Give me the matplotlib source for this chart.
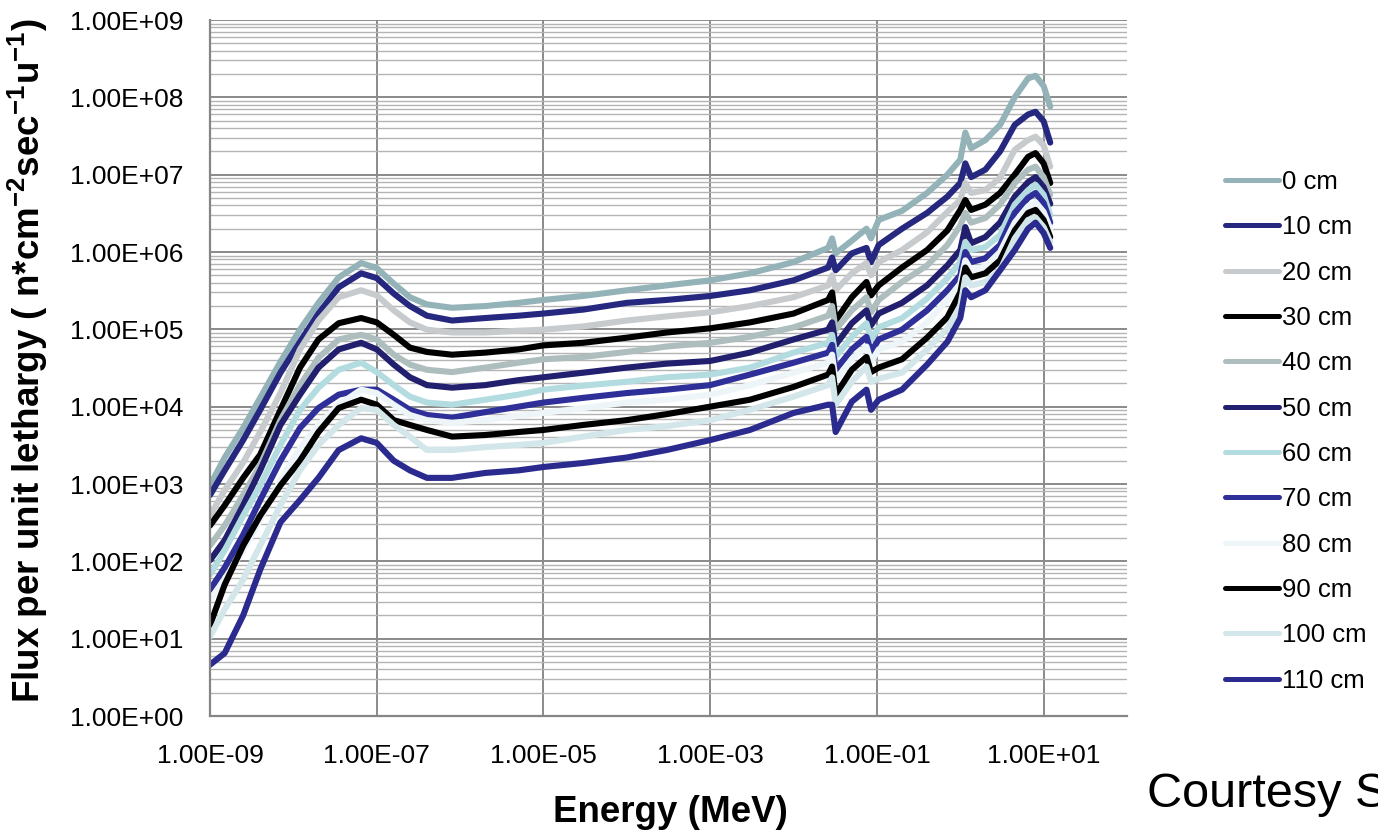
import matplotlib
matplotlib.use("Agg")
import matplotlib.pyplot as plt
from matplotlib.ticker import FixedLocator, FuncFormatter, LogLocator, NullLocator, NullFormatter

plt.rcParams['font.family'] = ['Liberation Sans', 'DejaVu Sans']
plt.rcParams['mathtext.fontset'] = 'custom'
plt.rcParams['mathtext.rm'] = 'Liberation Sans'
plt.rcParams['mathtext.bf'] = 'Liberation Sans:bold'

# Energy grid (MeV)
energy = [1.0e-9, 1.5e-9, 2.5e-9, 4.0e-9, 7.0e-9, 1.2e-8, 2.0e-8, 3.5e-8, 6.5e-8, 1.0e-7,
          1.6e-7, 2.5e-7, 4.0e-7, 8.0e-7, 2.0e-6, 5.0e-6, 1.0e-5, 3.0e-5, 1.0e-4, 3.0e-4,
          1.0e-3, 3.0e-3, 1.0e-2, 2.6e-2, 2.9e-2, 3.2e-2, 5.0e-2, 7.5e-2, 8.5e-2, 1.05e-1,
          0.2, 0.4, 0.7, 1.0, 1.15, 1.35, 2.0, 3.0, 4.5, 6.5, 8.0, 10.0, 12.0]

flux_0cm = [9.6e2, 2.2e3, 5.3e3, 1.3e4, 3.8e4, 9.9e4, 2.2e5, 4.7e5, 7.2e5, 6.2e5,
            3.9e5, 2.6e5, 2.1e5, 1.9e5, 2.0e5, 2.2e5, 2.4e5, 2.7e5, 3.2e5, 3.7e5,
            4.3e5, 5.3e5, 7.4e5, 1.13e6, 1.5e6, 9.6e5, 1.4e6, 2.0e6, 1.5e6, 2.6e6,
            3.4e6, 5.8e6, 1.0e7, 1.56e7, 3.5e7, 2.2e7, 2.8e7, 4.4e7, 1.0e8, 1.76e8,
            1.9e8, 1.4e8, 7.6e7]
flux_10cm = [7.2e2, 1.5e3, 3.7e3, 9.1e3, 2.75e4, 6.9e4, 1.6e5, 3.5e5, 5.3e5, 4.6e5,
             2.9e5, 2.0e5, 1.5e5, 1.3e5, 1.4e5, 1.5e5, 1.6e5, 1.8e5, 2.2e5, 2.4e5,
             2.7e5, 3.2e5, 4.3e5, 6.3e5, 8.5e5, 5.8e5, 9.6e5, 1.13e6, 7.4e5, 1.23e6,
             2.0e6, 3.2e6, 5.2e6, 7.8e6, 1.4e7, 9.3e6, 1.16e7, 2.0e7, 4.4e7, 6.0e7,
             6.5e7, 4.9e7, 2.6e7]
flux_20cm = [3.9e2, 8.3e2, 1.9e3, 4.7e3, 1.5e4, 5.5e4, 1.3e5, 2.6e5, 3.2e5, 2.75e5,
             1.76e5, 1.23e5, 9.9e4, 9.1e4, 9.1e4, 9.6e4, 9.9e4, 1.09e5, 1.3e5, 1.47e5,
             1.66e5, 2.0e5, 2.6e5, 3.7e5, 5.0e5, 3.2e5, 5.3e5, 7.2e5, 5.0e5, 7.4e5,
             1.06e6, 1.8e6, 3.3e6, 4.7e6, 7.8e6, 5.8e6, 6.3e6, 9.1e6, 2.1e7, 2.8e7,
             3.1e7, 2.4e7, 1.27e7]
flux_30cm = [2.9e2, 5.3e2, 1.2e3, 2.4e3, 9.1e3, 3.2e4, 7.4e4, 1.2e5, 1.4e5, 1.23e5,
             8.5e4, 5.8e4, 5.1e4, 4.7e4, 5.0e4, 5.5e4, 6.2e4, 6.7e4, 7.8e4, 9.1e4,
             1.03e5, 1.23e5, 1.6e5, 2.4e5, 3.0e5, 1.3e5, 2.6e5, 4.1e5, 2.75e5, 3.7e5,
             6.3e5, 1.06e6, 1.9e6, 3.5e6, 4.7e6, 3.5e6, 4.1e6, 5.8e6, 1.0e7, 1.7e7,
             1.9e7, 1.4e7, 7.8e6]
flux_40cm = [1.6e2, 2.9e2, 7.2e2, 1.76e3, 6.7e3, 1.9e4, 4.3e4, 7.4e4, 8.5e4, 7.4e4,
             4.7e4, 3.5e4, 3.0e4, 2.8e4, 3.2e4, 3.7e4, 4.1e4, 4.4e4, 5.1e4, 6.0e4,
             6.7e4, 8.0e4, 1.06e5, 1.5e5, 2.0e5, 9.9e4, 1.76e5, 2.6e5, 1.66e5, 2.4e5,
             4.1e5, 6.7e5, 1.23e6, 2.2e6, 3.2e6, 2.4e6, 2.75e6, 4.1e6, 7.8e6, 1.16e7,
             1.27e7, 9.3e6, 5.5e6]
flux_50cm = [1.03e2, 1.87e2, 5.3e2, 1.5e3, 5.8e3, 1.43e4, 3.2e4, 5.5e4, 6.7e4, 5.5e4,
             3.5e4, 2.4e4, 1.9e4, 1.76e4, 1.9e4, 2.2e4, 2.4e4, 2.75e4, 3.2e4, 3.6e4,
             3.9e4, 5.0e4, 7.4e4, 9.9e4, 1.23e5, 6.3e4, 1.2e5, 1.76e5, 1.13e5, 1.6e5,
             2.2e5, 3.7e5, 6.7e5, 1.06e6, 2.1e6, 1.3e6, 1.56e6, 2.4e6, 5.2e6, 8.0e6,
             9.3e6, 6.9e6, 4.2e6]
flux_60cm = [6.7e1, 1.39e2, 3.9e2, 9.6e2, 3.2e3, 9.1e3, 1.76e4, 3.0e4, 3.7e4, 2.8e4,
             1.9e4, 1.35e4, 1.13e4, 1.06e4, 1.23e4, 1.43e4, 1.66e4, 1.87e4, 2.1e4, 2.4e4,
             2.6e4, 3.2e4, 5.0e4, 6.7e4, 8.5e4, 4.4e4, 8.0e4, 1.2e5, 7.4e4, 1.06e5,
             1.4e5, 2.5e5, 4.6e5, 7.4e5, 1.35e6, 1.06e6, 1.16e6, 1.66e6, 4.1e6, 6.3e6,
             7.4e6, 5.5e6, 3.0e6]
flux_70cm = [4.3e1, 8.3e1, 2.2e2, 6.2e2, 2.0e3, 5.3e3, 9.6e3, 1.43e4, 1.66e4, 1.66e4,
             1.23e4, 9.1e3, 7.8e3, 7.2e3, 8.5e3, 1.0e4, 1.13e4, 1.3e4, 1.5e4, 1.66e4,
             1.9e4, 2.6e4, 3.7e4, 5.0e4, 6.3e4, 3.0e4, 5.5e4, 8.0e4, 5.1e4, 7.4e4,
             9.9e4, 1.76e5, 3.2e5, 5.0e5, 1.0e6, 7.4e5, 8.3e5, 1.23e6, 3.2e6, 5.0e6,
             5.8e6, 4.3e6, 2.4e6]
flux_80cm = [3.2e1, 5.8e1, 1.39e2, 3.4e2, 1.13e3, 2.9e3, 5.8e3, 1.06e4, 1.66e4, 1.5e4,
             1.06e4, 7.8e3, 6.7e3, 6.2e3, 6.7e3, 7.6e3, 8.3e3, 9.6e3, 1.13e4, 1.23e4,
             1.43e4, 1.9e4, 2.75e4, 3.7e4, 4.7e4, 2.2e4, 4.1e4, 6.0e4, 3.8e4, 5.5e4,
             6.9e4, 1.23e5, 2.4e5, 3.9e5, 7.8e5, 5.8e5, 6.5e5, 1.0e6, 2.4e6, 3.9e6,
             4.4e6, 3.3e6, 2.0e6]
flux_90cm = [1.5e1, 5.0e1, 1.6e2, 3.9e2, 9.6e2, 2.0e3, 4.7e3, 9.6e3, 1.23e4, 1.06e4,
             6.7e3, 5.8e3, 5.0e3, 4.1e3, 4.3e3, 4.7e3, 5.0e3, 5.8e3, 6.7e3, 8.0e3,
             1.0e4, 1.23e4, 1.8e4, 2.6e4, 3.3e4, 1.43e4, 3.0e4, 4.4e4, 2.8e4, 3.2e4,
             4.1e4, 7.8e4, 1.43e5, 3.0e5, 6.3e5, 4.7e5, 5.3e5, 7.8e5, 1.9e6, 3.2e6,
             3.5e6, 2.6e6, 1.56e6]
flux_100cm = [1.06e1, 2.4e1, 5.8e1, 1.6e2, 5.3e2, 1.5e3, 3.2e3, 5.8e3, 9.6e3, 9.1e3,
              5.8e3, 4.1e3, 2.75e3, 2.75e3, 3.0e3, 3.2e3, 3.4e3, 4.1e3, 5.0e3, 5.6e3,
              6.7e3, 9.1e3, 1.35e4, 1.9e4, 2.4e4, 1.06e4, 2.1e4, 3.3e4, 2.1e4, 2.3e4,
              2.75e4, 5.5e4, 1.03e5, 2.0e5, 4.7e5, 3.7e5, 4.1e5, 5.8e5, 1.5e6, 2.6e6,
              2.8e6, 2.1e6, 1.35e6]
flux_110cm = [4.6, 6.5, 2.0e1, 7.8e1, 3.2e2, 6.2e2, 1.2e3, 2.75e3, 3.9e3, 3.4e3,
              2.0e3, 1.5e3, 1.2e3, 1.2e3, 1.39e3, 1.5e3, 1.66e3, 1.87e3, 2.2e3, 2.75e3,
              3.7e3, 5.0e3, 8.3e3, 1.06e4, 1.06e4, 4.7e3, 1.16e4, 1.66e4, 9.1e3, 1.23e4,
              1.66e4, 3.5e4, 6.9e4, 1.4e5, 3.2e5, 2.6e5, 3.2e5, 5.8e5, 1.06e6, 2.0e6,
              2.4e6, 1.76e6, 1.13e6]

labels = ['0 cm', '10 cm', '20 cm', '30 cm', '40 cm', '50 cm',
          '60 cm', '70 cm', '80 cm', '90 cm', '100 cm', '110 cm']
series = [flux_0cm, flux_10cm, flux_20cm, flux_30cm, flux_40cm, flux_50cm,
          flux_60cm, flux_70cm, flux_80cm, flux_90cm, flux_100cm, flux_110cm]
colors = ['#93B3B8', '#262880', '#C8CBCD', '#000000', '#AEBEBE', '#211F6E',
          '#B3DCE0', '#2E2F98', '#EEF5F8', '#000000', '#D3E6E9', '#2B2A8E']

x_ticks = [1e-9, 1e-7, 1e-5, 1e-3, 1e-1, 1e1]
y_ticks = [1e0, 1e1, 1e2, 1e3, 1e4, 1e5, 1e6, 1e7, 1e8, 1e9]

W, H = 1378, 836
fig = plt.figure(figsize=(W / 100, H / 100), dpi=100)
ax = fig.add_axes([210 / W, 1 - 716 / H, (1127 - 210) / W, (716 - 20) / H])
ax.set_xscale('log')
ax.set_yscale('log')
ax.set_xlim(1e-9, 1e2)
ax.set_ylim(1e0, 1e9)

ax.xaxis.set_major_locator(FixedLocator(x_ticks))
ax.xaxis.set_minor_locator(NullLocator())
ax.yaxis.set_major_locator(FixedLocator(y_ticks))
ax.yaxis.set_minor_locator(LogLocator(base=10, subs=[2, 3, 4, 5, 6, 7, 8, 9], numticks=100))
ax.yaxis.set_minor_formatter(NullFormatter())
fmt = FuncFormatter(lambda v, p: format(v, '.2E'))
ax.xaxis.set_major_formatter(fmt)
ax.yaxis.set_major_formatter(fmt)

ax.grid(which='major', axis='both', color='#8a8a8a', lw=1.4)
ax.grid(which='minor', axis='y', color='#b4b4b4', lw=1.0)
ax.set_axisbelow(True)
ax.tick_params(which='both', length=0)
ax.tick_params(axis='y', labelsize=19, pad=19)
ax.tick_params(axis='x', labelsize=19, pad=20)
for s in ['top', 'right']:
    ax.spines[s].set_visible(False)
for s in ['left', 'bottom']:
    ax.spines[s].set_color('#868686')
    ax.spines[s].set_linewidth(1.6)

for vals, lab, col in zip(series, labels, colors):
    ax.plot(energy, vals, color=col, lw=4.4, label=lab,
            solid_joinstyle='round', solid_capstyle='round')

fig.text(28 / W, 1 - 361 / H,
         r'Flux per unit lethargy ( n*cm$^{\mathbf{-2}}$sec$^{\mathbf{-1}}$u$^{\mathbf{-1}}$)',
         rotation=90, ha='center', va='center', fontsize=26.5, fontweight='bold')
fig.text(670 / W, 1 - 812 / H, 'Energy (MeV)', ha='center', va='center',
         fontsize=26.5, fontweight='bold')

handles, labs = ax.get_legend_handles_labels()
leg = fig.legend(handles, labs, loc='upper left', bbox_to_anchor=(1207 / W, 1 - 152 / H),
                 frameon=False, fontsize=18.5, handlelength=2.1, handletextpad=0.12,
                 labelspacing=0.83, borderpad=0.2)
for h in leg.get_lines():
    h.set_linewidth(3.6)

fig.text(1147 / W, 1 - 807 / H, 'Courtesy S', fontsize=35, ha='left', va='baseline')

fig.savefig('out.png', dpi=100)
